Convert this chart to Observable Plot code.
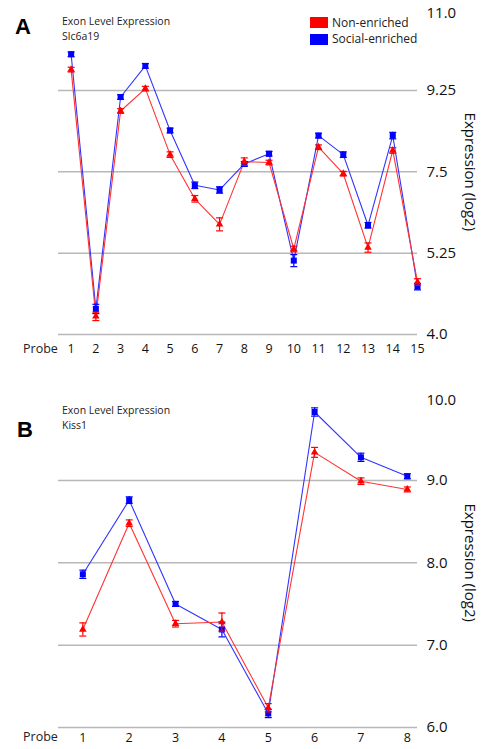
<!DOCTYPE html>
<html>
<head>
<meta charset="utf-8">
<script src="https://cdn.jsdelivr.net/npm/d3@7"></script>
<script src="https://cdn.jsdelivr.net/npm/@observablehq/plot@0.6"></script>
<style>
  html, body { margin: 0; padding: 0; background: #fff; }
  #wrap { position: relative; width: 493px; height: 749px; overflow: hidden; font-family: "Open Sans", sans-serif; }
  .panel { position: absolute; left: 0; }
  .ov { position: absolute; white-space: nowrap; color: #222; }
  .big { font-family: "Liberation Sans", Arial, sans-serif; font-weight: bold; font-size: 22px; color: #000; }
  .small { font-size: 10.5px; line-height: 14px; }
  .sw { position: absolute; width: 18px; height: 11px; }
  .lg { font-size: 12px; }
  .pr { font-size: 12.5px; }
</style>
</head>
<body>
<div id="wrap"></div>
<script>
// ---------- Panel A : Slc6a19 ----------
const probesA = [1,2,3,4,5,6,7,8,9,10,11,12,13,14,15];
const socialA = [10.03,4.55,9.11,9.78,8.39,7.21,7.11,7.67,7.89,5.59,8.28,7.87,6.35,8.28,5.03];
const socialErrA = [0.05,0.10,0.05,0.05,0.05,0.07,0.07,0.05,0.05,0.13,0.05,0.06,0.06,0.07,0.07];
const nonA = [9.70,4.39,8.81,9.29,7.87,6.92,6.37,7.72,7.70,5.84,8.03,7.46,5.87,7.96,5.13];
const nonErrA = [0.05,0.09,0.05,0.05,0.06,0.07,0.14,0.08,0.05,0.06,0.05,0.05,0.10,0.06,0.07];
const yTicksA = [4, 5.75, 7.5, 9.25, 11];
const yTickLabelsA = ["4.0", "5.25", "7.5", "9.25", "11.0"];
const gridA = [4, 5.75, 7.5, 9.25];

// ---------- Panel B : Kiss1 ----------
const probesB = [1,2,3,4,5,6,7,8];
const socialB = [7.86,8.76,7.50,7.19,6.17,9.83,9.28,9.05];
const socialErrB = [0.05,0.04,0.03,0.09,0.05,0.05,0.05,0.03];
const nonB = [7.19,8.48,7.26,7.28,6.24,9.34,8.99,8.89];
const nonErrB = [0.08,0.04,0.04,0.11,0.05,0.06,0.04,0.03];
const yTicksB = [6, 7, 8, 9, 10];
const yTickLabelsB = ["6.0", "7.0", "8.0", "9.0", "10.0"];
const gridB = [6, 7, 8, 9];

const seriesNames = ["Non-enriched", "Social-enriched"];
const seriesColors = ["#ff0000", "#0000ff"];
const lineColors = ["#ff3333", "#3333ff"];
const yTitle = "Expression (log2)";
const xTitle = "Probe";
const heading = "Exon Level Expression";
const genes = ["Slc6a19", "Kiss1"];

const capSymbol = {
  draw(context, size) {
    const w = Math.sqrt(size / Math.PI);
    context.moveTo(-w, 0);
    context.lineTo(w, 0);
  }
};

function rows(probes, vals, errs) {
  return probes.map((p, i) => ({probe: p, v: vals[i], lo: vals[i] - errs[i], hi: vals[i] + errs[i]}));
}

function seriesMarks(data, i, symbol, r) {
  const c = seriesColors[i];
  return [
    Plot.ruleX(data, {x: "probe", y1: "lo", y2: "hi", stroke: c, strokeWidth: 1.2}),
    Plot.dot(data, {x: "probe", y: "hi", symbol: capSymbol, r: 3.5, stroke: c, strokeWidth: 1.2}),
    Plot.dot(data, {x: "probe", y: "lo", symbol: capSymbol, r: 3.5, stroke: c, strokeWidth: 1.2}),
    Plot.dot(data, {x: "probe", y: "v", symbol, r, fill: c, stroke: "none"})
  ];
}

function panel(cfg) {
  const non = rows(cfg.probes, cfg.non, cfg.nonErr);
  const soc = rows(cfg.probes, cfg.social, cfg.socialErr);
  const lab = new Map(cfg.yTicks.map((t, i) => [t, cfg.yLabels[i]]));
  const top = cfg.yTicks[cfg.yTicks.length - 1];
  return Plot.plot({
    width: 493,
    height: cfg.height,
    marginLeft: 58,
    marginRight: 76,
    marginTop: cfg.mt,
    marginBottom: cfg.mb,
    style: {fontFamily: "'Open Sans', sans-serif", color: "#111", background: "white", overflow: "visible"},
    x: {domain: cfg.xDomain},
    y: {domain: cfg.yDomain},
    marks: [
      Plot.gridY(cfg.grid, {stroke: "#b8b8b8", strokeOpacity: 1, strokeWidth: 1.5}),
      Plot.axisY(cfg.yTicks.slice(0, -1), {anchor: "right", tickSize: 0, tickPadding: 9, fontSize: 15, label: null, tickFormat: d => lab.get(d)}),
      Plot.axisY([top], {anchor: "right", tickSize: 0, tickPadding: 9, fontSize: 15, label: null, dy: cfg.topDy, tickFormat: d => lab.get(d)}),
      Plot.axisX(cfg.probes, {anchor: "bottom", tickSize: 0, tickPadding: cfg.xPad, fontSize: 12.5, label: null, tickFormat: d => String(d)}),
      Plot.text([yTitle], {frameAnchor: "right", rotate: 90, dx: 52, textAnchor: "middle", fontSize: 15, fill: "#111"}),
      Plot.line(soc, {x: "probe", y: "v", stroke: lineColors[1], strokeWidth: 1.1}),
      Plot.line(non, {x: "probe", y: "v", stroke: lineColors[0], strokeWidth: 1.1}),
      ...seriesMarks(soc, 1, "square", 3.4),
      ...seriesMarks(non, 0, "triangle", 2.8)
    ]
  });
}

const wrap = document.getElementById("wrap");

function addPanel(top, cfg) {
  const d = document.createElement("div");
  d.className = "panel";
  d.style.top = top + "px";
  d.appendChild(panel(cfg));
  wrap.appendChild(d);
}

function ov(text, cls, left, top) {
  const d = document.createElement("div");
  d.className = "ov " + cls;
  d.style.left = left + "px";
  d.style.top = top + "px";
  d.textContent = text;
  wrap.appendChild(d);
  return d;
}

addPanel(0, {
  probes: probesA, social: socialA, socialErr: socialErrA, non: nonA, nonErr: nonErrA,
  yTicks: yTicksA, yLabels: yTickLabelsA, grid: gridA,
  height: 360, mt: 8.7, mb: 26, xDomain: [0.49, 15], yDomain: [4, 11], xPad: 10, topDy: 3.5
});
addPanel(380, {
  probes: probesB, social: socialB, socialErr: socialErrB, non: nonB, nonErr: nonErrB,
  yTicks: yTicksB, yLabels: yTickLabelsB, grid: gridB,
  height: 369, mt: 17.5, mb: 22, xDomain: [0.475, 8.22], yDomain: [6, 10], xPad: 6, topDy: 2.5
});

// Panel letters and headings
ov("A", "big", 15, 14);
ov("B", "big", 17, 417);
ov(heading, "small", 62, 14);
ov(genes[0], "small", 62, 29);
ov(heading, "small", 62, 403);
ov(genes[1], "small", 62, 418);
ov(xTitle, "pr", 23, 340);
ov(xTitle, "pr", 23, 728);

// Legend
seriesNames.forEach((name, i) => {
  const s = document.createElement("div");
  s.className = "sw";
  s.style.left = "310px";
  s.style.top = (17 + i * 16.5) + "px";
  s.style.background = seriesColors[i];
  wrap.appendChild(s);
  ov(name, "lg", 332, 13.5 + i * 16.5);
});
</script>
</body>
</html>
